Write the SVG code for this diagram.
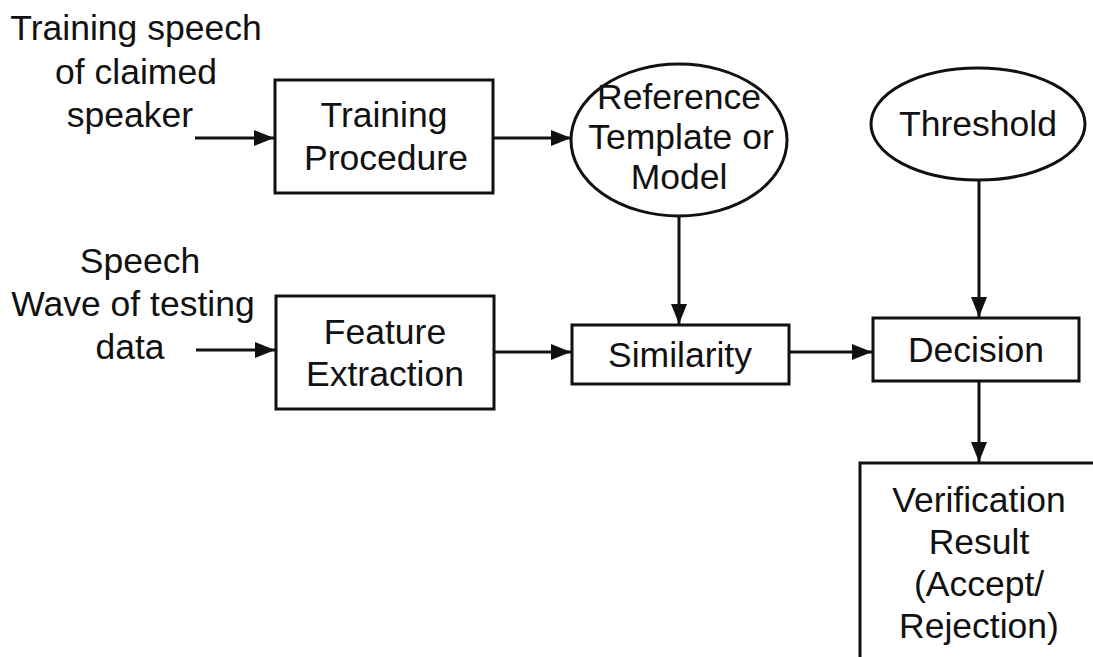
<svg xmlns="http://www.w3.org/2000/svg" width="1093" height="657" viewBox="0 0 1093 657">
  <defs>
    <marker id="arrow" viewBox="0 0 20 16" refX="20" refY="8" markerWidth="20" markerHeight="16" markerUnits="userSpaceOnUse" orient="auto">
      <path d="M0,0 L20,8 L0,16 Z" fill="#111"/>
    </marker>
    <style>
      text { font-family: "Liberation Sans", Arial, sans-serif; font-size: 35.5px; fill: #111; text-anchor: middle; }
      .box { fill: #fff; stroke: #111; stroke-width: 3; }
      .link { fill: none; stroke: #111; stroke-width: 3; marker-end: url(#arrow); }
    </style>
  </defs>
  <rect width="1093" height="657" fill="#fff"/>

  <!-- input labels -->
  <g id="train-input">
    <text x="136" y="40">Training speech</text>
    <text x="136" y="84">of claimed</text>
    <text x="130" y="127">speaker</text>
  </g>
  <g id="test-input">
    <text x="140" y="273">Speech</text>
    <text x="133" y="316">Wave of testing</text>
    <text x="130" y="359">data</text>
  </g>

  <g id="training-procedure">
    <rect class="box" x="275" y="80" width="218" height="113"/>
    <text x="384" y="127">Training</text>
    <text x="386" y="170">Procedure</text>
  </g>

  <g id="reference-model">
    <ellipse class="box" cx="679" cy="140" rx="108" ry="76"/>
    <text x="679" y="109">Reference</text>
    <text x="681" y="149">Template or</text>
    <text x="679" y="189">Model</text>
  </g>

  <g id="threshold">
    <ellipse class="box" cx="978" cy="124" rx="107" ry="56"/>
    <text x="978" y="136">Threshold</text>
  </g>

  <g id="feature-extraction">
    <rect class="box" x="276" y="296" width="218" height="113"/>
    <text x="385" y="344">Feature</text>
    <text x="385" y="386">Extraction</text>
  </g>

  <g id="similarity">
    <rect class="box" x="572" y="325" width="217" height="59"/>
    <text x="680" y="367">Similarity</text>
  </g>

  <g id="decision">
    <rect class="box" x="873" y="318" width="206" height="63"/>
    <text x="976" y="362">Decision</text>
  </g>

  <g id="verification-result">
    <path class="box" d="M860,670 L860,463 L1098,463" fill="none"/>
    <text x="979" y="512">Verification</text>
    <text x="979" y="554">Result</text>
    <text x="979" y="596">(Accept/</text>
    <text x="979" y="638">Rejection)</text>
  </g>

  <g id="connectors">
    <line class="link" x1="195" y1="138" x2="274" y2="138"/>
    <line class="link" x1="493" y1="138" x2="571" y2="138"/>
    <line class="link" x1="196" y1="350" x2="275" y2="350"/>
    <line class="link" x1="494" y1="352" x2="571" y2="352"/>
    <line class="link" x1="679" y1="216" x2="679" y2="324"/>
    <line class="link" x1="979" y1="180" x2="979" y2="317"/>
    <line class="link" x1="789" y1="352" x2="872" y2="352"/>
    <line class="link" x1="979" y1="381" x2="979" y2="462"/>
  </g>
</svg>
